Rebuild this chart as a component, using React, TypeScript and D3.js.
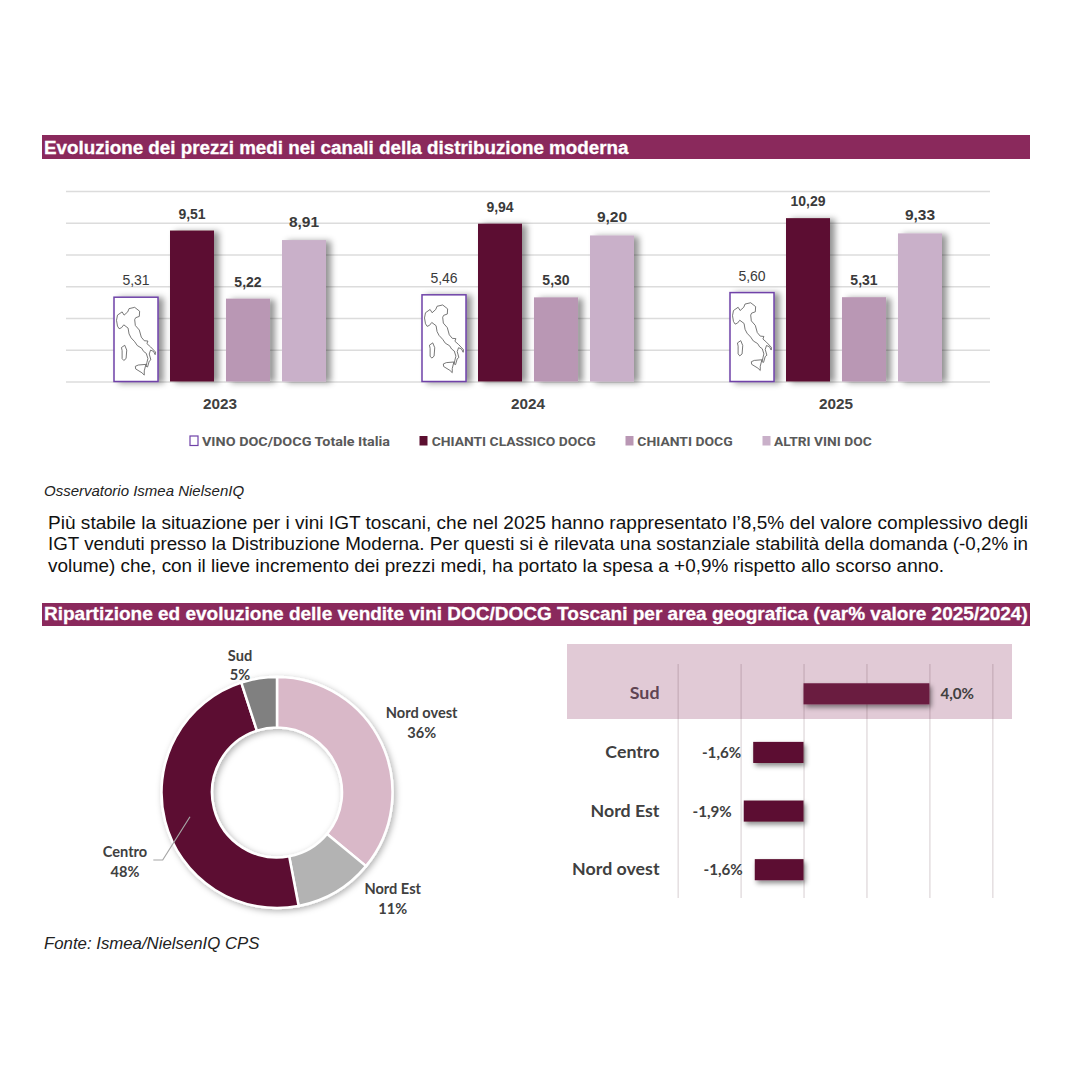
import * as d3 from "d3";
import { useEffect, useRef } from "react";

const years = ["2023", "2024", "2025"];
const channels = [
  "VINO DOC/DOCG Totale Italia",
  "CHIANTI CLASSICO DOCG",
  "CHIANTI DOCG",
  "ALTRI VINI DOC",
];
const italia = [5.31, 5.46, 5.6];
const classico = [9.51, 9.94, 10.29];
const chianti = [5.22, 5.3, 5.31];
const altri = [8.91, 9.2, 9.33];
const priceSeries = [italia, classico, chianti, altri];
const priceTicks = [0, 2, 4, 6, 8, 10, 12];

const areas = ["Nord ovest", "Nord Est", "Centro", "Sud"];
const shares = [36, 11, 48, 5];

const barAreas = ["Sud", "Centro", "Nord Est", "Nord ovest"];
const changes = [4.0, -1.6, -1.9, -1.55];
const changeLabels = ["4,0%", "-1,6%", "-1,9%", "-1,6%"];
const changeTicks = [-4, -2, 0, 2, 4, 6];

const paragraph = [
  "Più stabile la situazione per i vini IGT toscani, che nel 2025 hanno rappresentato l’8,5% del valore complessivo degli",
  "IGT venduti presso la Distribuzione Moderna. Per questi si è rilevata una sostanziale stabilità della domanda (-0,2% in",
  "volume) che, con il lieve incremento dei prezzi medi, ha portato la spesa a +0,9% rispetto allo scorso anno.",
];
const paragraphWidths = [980, 980, 896];

// rough outline of Italy, lon/lat
const mainland = [
  [6.7, 45.1], [7.0, 45.9], [8.4, 46.4], [9.0, 45.9], [10.1, 46.4], [10.5, 46.9], [12.2, 47.1],
  [13.7, 46.5], [13.6, 45.7], [12.5, 45.5], [12.2, 45.2], [12.4, 44.3], [13.6, 43.6], [14.2, 42.5],
  [15.1, 41.95], [16.2, 41.9], [15.9, 41.5], [17.0, 41.0], [18.5, 40.2], [18.4, 39.8], [17.9, 40.3],
  [17.0, 40.5], [16.6, 39.9], [17.1, 39.0], [16.6, 38.8], [16.1, 37.9], [15.65, 38.0], [15.9, 38.6],
  [16.2, 39.2], [15.7, 40.0], [14.9, 40.3], [14.3, 40.8], [13.0, 41.2], [12.2, 41.8], [11.1, 42.4],
  [10.5, 43.0], [10.2, 43.9], [8.9, 44.4], [8.2, 43.95], [7.5, 43.8], [7.0, 44.2], [6.7, 45.1],
];
const sardinia = [
  [8.2, 40.9], [9.2, 41.25], [9.8, 40.5], [9.6, 39.2], [8.9, 38.9], [8.4, 39.2], [8.4, 40.4], [8.2, 40.9],
];
const sicily = [
  [12.4, 38.0], [13.3, 38.2], [15.6, 38.3], [15.1, 37.3], [15.1, 36.65], [14.4, 37.0], [12.5, 37.6], [12.4, 38.0],
];

const WINE = "#5c0f30";
const SANS = "'Liberation Sans', Arial, sans-serif";
const LABEL = "Lato, sans-serif";

function addShadow(defs: any, id: string, dx: number, dy: number, blur: number, opacity: number) {
  const f = defs
    .append("filter")
    .attr("id", id)
    .attr("x", "-30%")
    .attr("y", "-30%")
    .attr("width", "170%")
    .attr("height", "170%");
  f.append("feDropShadow")
    .attr("dx", dx)
    .attr("dy", dy)
    .attr("stdDeviation", blur)
    .attr("flood-color", "#000")
    .attr("flood-opacity", opacity);
}

function banner(svg: any, y: number, h: number, baseline: number, text: string, size: number) {
  svg.append("rect").attr("x", 42).attr("y", y).attr("width", 988).attr("height", h).attr("fill", "#8a295c");
  svg
    .append("text")
    .attr("x", 44)
    .attr("y", baseline)
    .attr("fill", "#fff")
    .attr("stroke", "#fff")
    .attr("stroke-width", 0.3)
    .style("font", `bold ${size}px ${SANS}`)
    .text(text);
}

export default function App() {
  const svgRef = useRef<SVGSVGElement>(null);

  useEffect(() => {
    if (!svgRef.current) return;
    const svg = d3.select(svgRef.current);
    svg.selectAll("*").remove();

    const defs = svg.append("defs");
    addShadow(defs, "barShadow", 5, 1, 3, 0.42);
    addShadow(defs, "hbarShadow", 2, 3, 2.5, 0.45);
    addShadow(defs, "donutShadow", 2, 2, 3, 0.3);

    banner(svg, 135, 24, 154, "Evoluzione dei prezzi medi nei canali della distribuzione moderna", 18.8);
    banner(svg, 603, 23, 620, "Ripartizione ed evoluzione delle vendite vini DOC/DOCG Toscani per area geografica (var% valore 2025/2024)", 19);

    // price columns
    const x0 = d3.scaleBand().domain(years).range([66, 990]);
    const x1 = d3
      .scaleBand()
      .domain(channels)
      .range([48, x0.bandwidth() - 48])
      .paddingInner(0.214);
    const y = d3.scaleLinear().domain([0, 12]).range([381.5, 191]);

    const grid = svg
      .append("g")
      .attr("transform", "translate(66,0)")
      .call(d3.axisLeft(y).tickValues(priceTicks).tickSize(-924).tickFormat(() => ""));
    grid.select(".domain").remove();
    grid.selectAll("line").attr("stroke", "#dcdcdc").attr("stroke-width", 1.5);

    const valueFont = [
      `normal 14px ${SANS}`,
      `bold 14px ${SANS}`,
      `bold 14px ${SANS}`,
      `bold 15.5px ${SANS}`,
    ];
    const barFill = ["#fff", WINE, "#b997b4", "#c9b0c9"];

    const geoFeature = {
      type: "MultiPolygon",
      coordinates: [mainland, sardinia, sicily].map((ring) => [ring.map(([a, b]) => [a * 0.51, b])]),
    };
    const mapWidth = 39;
    const mapHeight = 68;

    years.forEach((year, yi) => {
      const g = svg.append("g").attr("transform", `translate(${x0(year)},0)`);
      channels.forEach((ch, si) => {
        const v = priceSeries[si][yi];
        const bx = x1(ch)!;
        const by = y(v);
        g.append("rect")
          .attr("x", bx)
          .attr("y", by)
          .attr("width", x1.bandwidth())
          .attr("height", y(0) - by)
          .attr("fill", barFill[si])
          .attr("stroke", si === 0 ? "#6f42a8" : "none")
          .attr("stroke-width", 1.5)
          .attr("filter", "url(#barShadow)");
        if (si === 0) {
          const proj = d3
            .geoIdentity()
            .reflectY(true)
            .fitExtent(
              [
                [bx + 2.5, by + 10],
                [bx + 2.5 + mapWidth, by + 10 + mapHeight],
              ],
              geoFeature as any
            );
          g.append("path")
            .attr("d", d3.geoPath(proj)(geoFeature as any))
            .attr("fill", "#fff")
            .attr("stroke", "#555")
            .attr("stroke-width", 0.8);
        }
        g.append("text")
          .attr("x", bx + x1.bandwidth() / 2)
          .attr("y", by - (si === 3 ? 13 : 12))
          .attr("text-anchor", "middle")
          .attr("fill", "#3a3a3a")
          .style("font", valueFont[si])
          .text(v.toFixed(2).replace(".", ","));
      });
      g.append("text")
        .attr("x", x0.bandwidth() / 2)
        .attr("y", 409)
        .attr("text-anchor", "middle")
        .attr("fill", "#404040")
        .style("font", `bold 15.3px ${SANS}`)
        .text(year);
    });

    // legend
    const legendSwatch = [190, 419.5, 625.5, 762.5];
    const legendText = [202, 431.7, 637.3, 774];
    const legendWidth = [188, 164, 95.4, 97.7];
    const legendFill = ["#fff", WINE, "#b997b4", "#c9b0c9"];
    channels.forEach((ch, i) => {
      svg
        .append("rect")
        .attr("x", legendSwatch[i])
        .attr("y", 436)
        .attr("width", 8)
        .attr("height", 9.5)
        .attr("fill", legendFill[i])
        .attr("stroke", i === 0 ? "#6f42a8" : "none")
        .attr("stroke-width", 1.2);
      svg
        .append("text")
        .attr("x", legendText[i])
        .attr("y", 445.5)
        .attr("fill", "#595959")
        .attr("textLength", legendWidth[i])
        .attr("lengthAdjust", "spacingAndGlyphs")
        .style("font", `bold 13.5px Roboto, sans-serif`)
        .text(ch);
    });

    svg
      .append("text")
      .attr("x", 44)
      .attr("y", 495.5)
      .attr("fill", "#222")
      .style("font", `italic 15px ${SANS}`)
      .text("Osservatorio Ismea NielsenIQ");

    paragraph.forEach((line, i) => {
      svg
        .append("text")
        .attr("x", 48)
        .attr("y", 528.5 + i * 21.9)
        .attr("fill", "#111")
        .attr("textLength", paragraphWidths[i])
        .attr("lengthAdjust", "spacingAndGlyphs")
        .style("font", `18.9px ${SANS}`)
        .text(line);
    });

    svg
      .append("text")
      .attr("x", 44)
      .attr("y", 949)
      .attr("fill", "#222")
      .style("font", `italic 16.8px ${SANS}`)
      .text("Fonte: Ismea/NielsenIQ CPS");

    // donut
    const pie = d3.pie<number>().sort(null);
    const arc = d3.arc<d3.PieArcDatum<number>>().innerRadius(65).outerRadius(115.5);
    const donut = svg.append("g").attr("transform", "translate(277,792.5)").attr("filter", "url(#donutShadow)");
    const donutFill = ["#d9b8c8", "#b3b3b3", WINE, "#808080"];
    donut
      .selectAll("path")
      .data(pie(shares))
      .enter()
      .append("path")
      .attr("d", arc)
      .attr("fill", (d, i) => donutFill[i])
      .attr("stroke", "#fff")
      .attr("stroke-width", 2.5);

    svg
      .append("polyline")
      .attr("points", "190,816.7 162.7,860 153.3,860")
      .attr("fill", "none")
      .attr("stroke", "#a6a6a6")
      .attr("stroke-width", 1.2);

    const donutLabelX = [421.7, 392.7, 125, 240];
    const donutLabelY = [718, 894, 857, 660.5];
    areas.forEach((a, i) => {
      const t = svg
        .append("text")
        .attr("text-anchor", "middle")
        .attr("fill", "#404040")
        .style("font", `bold 14.6px ${LABEL}`);
      t.append("tspan").attr("x", donutLabelX[i]).attr("y", donutLabelY[i]).text(a);
      t.append("tspan").attr("x", donutLabelX[i]).attr("y", donutLabelY[i] + 19.5).text(`${shares[i]}%`);
    });

    // change bars
    svg.append("rect").attr("x", 567).attr("y", 644).attr("width", 445).attr("height", 75).attr("fill", "#e1cad6");

    const xc = d3.scaleLinear().domain([-4, 6]).range([677.7, 992.3]);
    const yc = d3.scaleBand().domain(barAreas).range([664.5, 899]).paddingInner(0.64).paddingOuter(0.32);

    const cgrid = svg
      .append("g")
      .attr("transform", "translate(0,898)")
      .call(d3.axisBottom(xc).tickValues(changeTicks).tickSize(-234).tickFormat(() => ""));
    cgrid.select(".domain").remove();
    cgrid.selectAll("line").attr("stroke", "#5c3a4a").attr("stroke-opacity", 0.17).attr("stroke-width", 1.5);

    barAreas.forEach((a, i) => {
      const v = changes[i];
      svg
        .append("rect")
        .attr("x", xc(Math.min(0, v)))
        .attr("y", yc(a)!)
        .attr("width", Math.abs(xc(v) - xc(0)))
        .attr("height", yc.bandwidth())
        .attr("fill", i === 0 ? "#6b1a40" : WINE)
        .attr("filter", "url(#hbarShadow)");
      const cy = yc(a)! + yc.bandwidth() / 2 + 5.5;
      svg
        .append("text")
        .attr("x", 659.5)
        .attr("y", cy)
        .attr("text-anchor", "end")
        .attr("fill", i === 0 ? "#5f4452" : "#404040")
        .style("font", `bold 17.8px ${LABEL}`)
        .text(a);
      svg
        .append("text")
        .attr("x", v > 0 ? xc(v) + 11 : xc(v) - 12)
        .attr("y", cy)
        .attr("text-anchor", v > 0 ? "start" : "end")
        .attr("fill", "#404040")
        .style("font", `bold 15.2px ${LABEL}`)
        .text(changeLabels[i]);
    });
  }, []);

  return (
    <svg
      ref={svgRef}
      width={1080}
      height={1080}
      style={{ position: "absolute", left: 0, top: 0, display: "block", background: "#fff" }}
    />
  );
}
